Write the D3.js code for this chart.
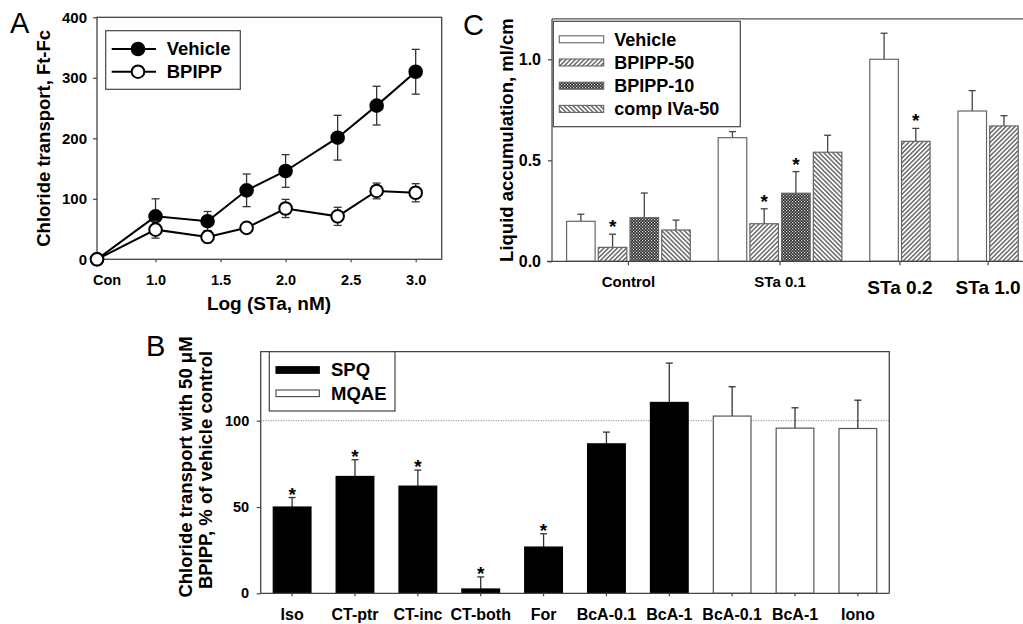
<!DOCTYPE html>
<html>
<head>
<meta charset="utf-8">
<script src="https://cdn.jsdelivr.net/npm/d3@7"></script>
<style>
body { margin: 0; background: #fff; }
svg text { font-family: 'Liberation Sans', Arial, Helvetica, sans-serif; font-weight: bold; fill: #000; }
svg text.letter { font-weight: normal; }
</style>
</head>
<body>
<svg id="chart" width="1023" height="624"></svg>
<script>
// ---- Panel A: chloride transport vs log STa ----
var doseLabels = ["Con", "1.0", "1.4", "1.7", "2.0", "2.4", "2.7", "3.0"];
var doseLog = [0.55, 1.0, 1.4, 1.7, 2.0, 2.4, 2.7, 3.0];
var vehicleMean = [0, 71, 63, 114, 146, 201, 254, 310];
var vehicleErr = [0, 29, 16, 27, 27, 37, 32, 37];
var bpippMean = [0, 49, 37, 52, 84, 71, 113, 110];
var bpippErr = [0, 14, 10, 6, 15, 15, 13, 15];
var aXTicks = [1.0, 1.5, 2.0, 2.5, 3.0];
var aYTicks = [0, 100, 200, 300, 400];

// ---- Panel C: liquid accumulation ----
var cGroups = ["Control", "STa 0.1", "STa 0.2", "STa 1.0"];
var cSeries = ["Vehicle", "BPIPP-50", "BPIPP-10", "comp IVa-50"];
var cVehicle = [0.198, 0.612, 1.0, 0.744];
var cVehicleErr = [0.035, 0.030, 0.129, 0.101];
var cBpipp50 = [0.069, 0.186, 0.594, 0.670];
var cBpipp50Err = [0.065, 0.074, 0.064, 0.051];
var cBpipp10 = [0.216, 0.337, null, null];
var cBpipp10Err = [0.122, 0.107, null, null];
var cComp = [0.155, 0.540, null, null];
var cCompErr = [0.049, 0.084, null, null];
// significance marks, per series, per group
var cStars = [
  [false, false, false, false],
  [true, true, true, false],
  [false, true, false, false],
  [false, false, false, false]
];
var cYTicks = [0, 0.5, 1.0];

// ---- Panel B: % of vehicle control ----
var bLabels = ["Iso", "CT-ptr", "CT-inc", "CT-both", "For", "BcA-0.1", "BcA-1", "BcA-0.1", "BcA-1", "Iono"];
var bProbe = ["SPQ", "SPQ", "SPQ", "SPQ", "SPQ", "SPQ", "SPQ", "MQAE", "MQAE", "MQAE"];
var bMean = [50, 67.7, 62.1, 2.5, 26.8, 86.6, 110.6, 102.7, 95.7, 95.5];
var bErr = [5.5, 9.7, 9.3, 7, 7.7, 6.8, 22.8, 17, 11.8, 16.4];
var bStars = [true, true, true, true, true, false, false, false, false, false];
var bYTicks = [0, 50, 100];

var svg = d3.select("#chart");
var defs = svg.append("defs");

// fill patterns for panel C
function hatch(id, angle) {
  var p = defs.append("pattern")
    .attr("id", id)
    .attr("patternUnits", "userSpaceOnUse")
    .attr("width", 3.2)
    .attr("height", 3.2)
    .attr("patternTransform", "rotate(" + angle + ")");
  p.append("rect").attr("width", 3.2).attr("height", 3.2).attr("fill", "#fff");
  p.append("line")
    .attr("x1", 0.8).attr("x2", 0.8).attr("y1", 0).attr("y2", 3.2)
    .attr("stroke", "#333").attr("stroke-width", 1.1);
}
hatch("hatchFwd", 45);
hatch("hatchBack", -45);
var cp = defs.append("pattern")
  .attr("id", "cross")
  .attr("patternUnits", "userSpaceOnUse")
  .attr("width", 3)
  .attr("height", 3);
cp.append("rect").attr("width", 3).attr("height", 3).attr("fill", "#2b2b2b");
cp.append("rect").attr("x", 0).attr("y", 0).attr("width", 1.2).attr("height", 1.2).attr("fill", "#e0e0e0");
cp.append("rect").attr("x", 1.5).attr("y", 1.5).attr("width", 1.2).attr("height", 1.2).attr("fill", "#e0e0e0");
var cFills = ["#fff", "url(#hatchFwd)", "url(#cross)", "url(#hatchBack)"];

function styleAxis(g, size) {
  g.attr("font-family", null).attr("font-size", null);
  g.selectAll(".tick line").attr("stroke", "#444").attr("stroke-width", 1.2);
  g.selectAll(".tick text").style("font-size", size + "px");
  g.select(".domain").remove();
}

// panel letters
svg.append("text").attr("class", "letter").attr("x", 10).attr("y", 33).style("font-size", "29px").text("A");
svg.append("text").attr("class", "letter").attr("x", 463).attr("y", 35).style("font-size", "29px").text("C");
svg.append("text").attr("class", "letter").attr("x", 146).attr("y", 356).style("font-size", "29px").text("B");

// =================== Panel A ===================
var ax = d3.scaleLinear().domain([0.55, 3.2]).range([97, 441.7]);
var ay = d3.scaleLinear().domain([0, 400]).range([259.3, 17.3]);
var gA = svg.append("g");

gA.append("g")
  .attr("transform", "translate(" + ax.range()[0] + ",0)")
  .call(d3.axisLeft(ay).tickValues(aYTicks).tickSize(4).tickPadding(6).tickFormat(d3.format("d")))
  .call(styleAxis, 15);

var axisA = gA.append("g")
  .attr("transform", "translate(0," + ay.range()[0] + ")")
  .call(d3.axisBottom(ax).tickValues(aXTicks).tickSize(3).tickPadding(12).tickFormat(d3.format(".1f")))
  .call(styleAxis, 14.5);
// control point label, sits just right of the axis origin
axisA.append("text")
  .attr("x", ax(doseLog[0]) + 10)
  .attr("y", 15)
  .attr("dy", "0.71em")
  .attr("text-anchor", "middle")
  .style("font-size", "14.5px")
  .text(doseLabels[0]);

gA.append("rect")
  .attr("x", ax.range()[0])
  .attr("y", ay.range()[1])
  .attr("width", ax.range()[1] - ax.range()[0])
  .attr("height", ay.range()[0] - ay.range()[1])
  .attr("fill", "none")
  .attr("stroke", "#444")
  .attr("stroke-width", 1.3);

gA.append("text")
  .attr("transform", "translate(50," + ay(200) + ") rotate(-90)")
  .attr("text-anchor", "middle")
  .style("font-size", "18.5px")
  .text("Chloride transport, Ft-Fc");
gA.append("text")
  .attr("x", 269)
  .attr("y", 310)
  .attr("text-anchor", "middle")
  .style("font-size", "19px")
  .text("Log (STa, nM)");

function drawSeries(means, errs, filled) {
  var pts = doseLog.map(function(d, i) { return { x: d, y: means[i], e: errs[i] }; });
  var eb = gA.append("g").selectAll("g").data(pts.filter(function(d) { return d.e > 0; })).enter().append("g")
    .attr("stroke", "#333").attr("stroke-width", 1.3);
  eb.append("line")
    .attr("x1", d => ax(d.x)).attr("x2", d => ax(d.x))
    .attr("y1", d => ay(d.y - d.e)).attr("y2", d => ay(d.y + d.e));
  eb.append("line")
    .attr("x1", d => ax(d.x) - 4).attr("x2", d => ax(d.x) + 4)
    .attr("y1", d => ay(d.y + d.e)).attr("y2", d => ay(d.y + d.e));
  eb.append("line")
    .attr("x1", d => ax(d.x) - 4).attr("x2", d => ax(d.x) + 4)
    .attr("y1", d => ay(d.y - d.e)).attr("y2", d => ay(d.y - d.e));
  gA.append("path")
    .datum(pts)
    .attr("fill", "none")
    .attr("stroke", "#000")
    .attr("stroke-width", 2)
    .attr("d", d3.line().x(d => ax(d.x)).y(d => ay(d.y)));
  gA.append("g").selectAll("circle").data(pts).enter().append("circle")
    .attr("cx", d => ax(d.x))
    .attr("cy", d => ay(d.y))
    .attr("r", 6.3)
    .attr("fill", filled ? "#000" : "#fff")
    .attr("stroke", "#000")
    .attr("stroke-width", 2);
}
drawSeries(vehicleMean, vehicleErr, true);
drawSeries(bpippMean, bpippErr, false);

// legend A
var legA = gA.append("g");
legA.append("rect")
  .attr("x", 105.7).attr("y", 30.7).attr("width", 134.6).attr("height", 58.6)
  .attr("fill", "#fff").attr("stroke", "#444").attr("stroke-width", 1.2);
[["Vehicle", true], ["BPIPP", false]].forEach(function(d, i) {
  var y = 49 + i * 22.7;
  legA.append("line").attr("x1", 111.7).attr("x2", 156).attr("y1", y).attr("y2", y)
    .attr("stroke", "#000").attr("stroke-width", 2);
  legA.append("circle").attr("cx", 138).attr("cy", y).attr("r", 6.3)
    .attr("fill", d[1] ? "#000" : "#fff").attr("stroke", "#000").attr("stroke-width", 2);
  legA.append("text").attr("x", 166.7).attr("y", y).attr("dy", "0.35em")
    .style("font-size", "18.5px").text(d[0]);
});

// =================== Panel C ===================
var cMeans = [cVehicle, cBpipp50, cBpipp10, cComp];
var cErrs = [cVehicleErr, cBpipp50Err, cBpipp10Err, cCompErr];
var groupGap = 0.78, barFrac = 0.9;
var cBars = [], cCenters = [], slot = 0;
cGroups.forEach(function(g, gi) {
  var start = slot, k = 0;
  cSeries.forEach(function(s, si) {
    if (cMeans[si][gi] !== null) {
      cBars.push({ pos: start + k, v: cMeans[si][gi], e: cErrs[si][gi], s: si, star: cStars[si][gi] });
      k++;
    }
  });
  cCenters.push(start + (k - (1 - barFrac)) / 2);
  slot = start + k + groupGap;
});
var lastEnd = slot - groupGap;
var cx = d3.scaleLinear().domain([-0.46, lastEnd + 0.05]).range([552, 1023]);
var cy = d3.scaleLinear().domain([0, 1.2]).range([261.3, 18.9]);
var gC = svg.append("g");

gC.append("line")
  .attr("x1", cx.range()[0]).attr("x2", cx.range()[1])
  .attr("y1", cy(1.2)).attr("y2", cy(1.2))
  .attr("stroke", "#555").attr("stroke-width", 1.2);
gC.append("line")
  .attr("x1", cx.range()[0]).attr("x2", cx.range()[0])
  .attr("y1", cy(1.2)).attr("y2", cy(0))
  .attr("stroke", "#444").attr("stroke-width", 1.2);
gC.append("g")
  .attr("transform", "translate(" + cx.range()[0] + ",0)")
  .call(d3.axisLeft(cy).tickValues(cYTicks).tickSize(4).tickPadding(7).tickFormat(d3.format(".1f")))
  .call(styleAxis, 16);

var cb = gC.append("g").selectAll("g").data(cBars).enter().append("g");
cb.append("line")
  .attr("x1", d => cx(d.pos + barFrac / 2)).attr("x2", d => cx(d.pos + barFrac / 2))
  .attr("y1", d => cy(d.v)).attr("y2", d => cy(d.v + d.e))
  .attr("stroke", "#444").attr("stroke-width", 1.3);
cb.append("line")
  .attr("x1", d => cx(d.pos + barFrac / 2) - 3.5).attr("x2", d => cx(d.pos + barFrac / 2) + 3.5)
  .attr("y1", d => cy(d.v + d.e)).attr("y2", d => cy(d.v + d.e))
  .attr("stroke", "#444").attr("stroke-width", 1.3);
cb.append("rect")
  .attr("x", d => cx(d.pos))
  .attr("y", d => cy(d.v))
  .attr("width", d => cx(d.pos + barFrac) - cx(d.pos))
  .attr("height", d => cy(0) - cy(d.v))
  .attr("fill", d => cFills[d.s])
  .attr("stroke", "#666")
  .attr("stroke-width", 1.2);
cb.filter(d => d.star).append("text")
  .attr("x", d => cx(d.pos + barFrac / 2))
  .attr("y", d => cy(d.v + d.e) - 1)
  .attr("text-anchor", "middle")
  .style("font-size", "19px")
  .text("*");

gC.append("line")
  .attr("x1", cx.range()[0] - 5).attr("x2", cx.range()[1])
  .attr("y1", cy(0)).attr("y2", cy(0))
  .attr("stroke", "#444").attr("stroke-width", 1.3);
var cxTicks = gC.append("g").selectAll("g").data(cCenters).enter().append("g");
cxTicks.append("line")
  .attr("x1", d => cx(d)).attr("x2", d => cx(d))
  .attr("y1", cy(0)).attr("y2", cy(0) + 4)
  .attr("stroke", "#444").attr("stroke-width", 1.2);
cxTicks.append("text")
  .attr("x", d => cx(d))
  .attr("y", (d, i) => i < 2 ? 287 : 293.5)
  .attr("text-anchor", "middle")
  .style("font-size", (d, i) => i < 2 ? "15px" : "19px")
  .text((d, i) => cGroups[i]);

gC.append("text")
  .attr("transform", "translate(512.5," + cy(0.6) + ") rotate(-90)")
  .attr("text-anchor", "middle")
  .style("font-size", "18.5px")
  .text("Liquid accumulation, ml/cm");

var legC = gC.append("g");
legC.append("rect")
  .attr("x", 553.3).attr("y", 21.3).attr("width", 187).attr("height", 105.4)
  .attr("fill", "#fff").attr("stroke", "#444").attr("stroke-width", 1.2);
cSeries.forEach(function(s, i) {
  var y = 39.3 + i * 23.2;
  legC.append("rect")
    .attr("x", 559.3).attr("y", y - 3.5).attr("width", 44.4).attr("height", 7)
    .attr("fill", cFills[i]).attr("stroke", "#666").attr("stroke-width", 1.1);
  legC.append("text").attr("x", 614.3).attr("y", y).attr("dy", "0.35em")
    .style("font-size", "18px").text(s);
});

// =================== Panel B ===================
var bx = d3.scaleBand().domain(d3.range(bLabels.length)).range([260.7, 889.3]).paddingInner(0.4).paddingOuter(0.2);
var by = d3.scaleLinear().domain([0, 140]).range([593.3, 351.7]);
var gB = svg.append("g");

gB.append("line")
  .attr("x1", 260.7).attr("x2", 889.3).attr("y1", by(100)).attr("y2", by(100))
  .attr("stroke", "#777").attr("stroke-width", 1).attr("stroke-dasharray", "1,1.5");

gB.append("path")
  .attr("d", "M" + bx.range()[0] + "," + by(0) + "V" + by(140) + "H" + bx.range()[1] + "V" + by(0))
  .attr("fill", "none").attr("stroke", "#444").attr("stroke-width", 1.3);
gB.append("g")
  .attr("transform", "translate(" + bx.range()[0] + ",0)")
  .call(d3.axisLeft(by).tickValues(bYTicks).tickSize(4).tickPadding(7.5).tickFormat(d3.format("d")))
  .call(styleAxis, 14.5);

var bb = gB.append("g").selectAll("g").data(bMean).enter().append("g");
bb.append("line")
  .attr("x1", (d, i) => bx(i) + bx.bandwidth() / 2).attr("x2", (d, i) => bx(i) + bx.bandwidth() / 2)
  .attr("y1", d => by(d)).attr("y2", (d, i) => by(d + bErr[i]))
  .attr("stroke", "#333").attr("stroke-width", 1.3);
bb.append("line")
  .attr("x1", (d, i) => bx(i) + bx.bandwidth() / 2 - 3.5).attr("x2", (d, i) => bx(i) + bx.bandwidth() / 2 + 3.5)
  .attr("y1", (d, i) => by(d + bErr[i])).attr("y2", (d, i) => by(d + bErr[i]))
  .attr("stroke", "#333").attr("stroke-width", 1.3);
bb.append("rect")
  .attr("x", (d, i) => bx(i))
  .attr("y", d => by(d))
  .attr("width", bx.bandwidth())
  .attr("height", d => by(0) - by(d))
  .attr("fill", (d, i) => bProbe[i] === "SPQ" ? "#000" : "#fff")
  .attr("stroke", (d, i) => bProbe[i] === "SPQ" ? "#000" : "#555")
  .attr("stroke-width", 1.2);
bb.filter((d, i) => bStars[i]).append("text")
  .attr("x", (d, i) => bx(i) + bx.bandwidth() / 2)
  .attr("y", (d, i) => by(d + bErr[i]) + 3)
  .attr("text-anchor", "middle")
  .style("font-size", "19px")
  .text("*");

gB.append("line")
  .attr("x1", bx.range()[0]).attr("x2", bx.range()[1])
  .attr("y1", by(0)).attr("y2", by(0))
  .attr("stroke", "#444").attr("stroke-width", 1.3);
var bxAxis = gB.append("g")
  .attr("transform", "translate(0," + by(0) + ")")
  .call(d3.axisBottom(bx).tickSize(3).tickPadding(12).tickFormat(i => bLabels[i]))
  .call(styleAxis, 16);

gB.append("text")
  .attr("transform", "translate(191.5,467) rotate(-90)")
  .attr("text-anchor", "middle")
  .style("font-size", "18.5px")
  .text("Chloride transport with 50 \u03BCM");
gB.append("text")
  .attr("transform", "translate(212,470) rotate(-90)")
  .attr("text-anchor", "middle")
  .style("font-size", "18.5px")
  .text("BPIPP, % of vehicle control");

var legB = gB.append("g");
legB.append("rect")
  .attr("x", 269.3).attr("y", 351.7).attr("width", 125.7).attr("height", 59.3)
  .attr("fill", "#fff").attr("stroke", "#444").attr("stroke-width", 1.2);
["SPQ", "MQAE"].forEach(function(p, i) {
  var y = 370 + i * 23.3;
  legB.append("rect")
    .attr("x", 276).attr("y", y - 3.3).attr("width", 43.3).attr("height", 6.6)
    .attr("fill", p === "SPQ" ? "#000" : "#fff")
    .attr("stroke", p === "SPQ" ? "#000" : "#444").attr("stroke-width", 1.1);
  legB.append("text").attr("x", 331).attr("y", y).attr("dy", "0.35em")
    .style("font-size", "18.5px").text(p);
});
</script>
</body>
</html>
